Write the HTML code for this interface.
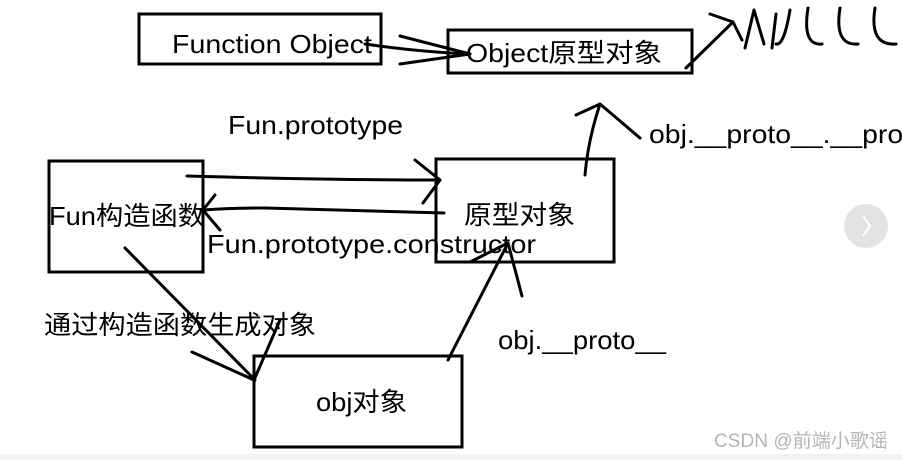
<!DOCTYPE html>
<html><head><meta charset="utf-8"><style>
html,body{margin:0;padding:0;background:#fff;width:902px;height:460px;overflow:hidden}
svg{display:block}
text{font-family:"Liberation Sans","Noto Sans CJK SC",sans-serif;fill:#000}
</style></head><body>
<svg width="902" height="460" viewBox="0 0 902 460" xmlns="http://www.w3.org/2000/svg">
<rect x="0" y="454" width="902" height="6" fill="#f2f2f2"/>
<g fill="none" stroke="#000" stroke-width="3">
<rect x="139" y="14" width="242" height="50"/>
<rect x="448" y="30" width="244" height="43"/>
<rect x="49" y="161" width="154" height="111"/>
<rect x="436" y="159" width="178" height="103"/>
<rect x="254" y="356" width="208" height="91"/>
</g>
<g fill="none" stroke="#000" stroke-width="3" stroke-linecap="round" stroke-linejoin="round">
<path d="M365 44 Q420 52 470 54"/>
<path d="M400 36 L470 54 L400 64"/>
<path d="M686 68 L733 22"/>
<path d="M710 14 L733 22 L742 40"/>
<path d="M585 175 Q588 140 600 104 L576 115 M600 104 L640 138"/>
<path d="M187 176 Q330 180 440 180"/>
<path d="M415 160 L440 180 L423 203"/>
<path d="M444 213 Q330 210 265 208 Q230 208 203 210"/>
<path d="M215 195 L203 210 L220 230"/>
<path d="M125 248 L255 380"/>
<path d="M192 352 L254 380 L280 320"/>
<path d="M448 360 L508 243"/>
<path d="M470 262 L508 243 L522 296"/>
<path d="M745 48 L754 10 L764 44"/>
<path d="M772 48 L776 14 M776 44 Q784 46 790 10"/>
<path d="M808 8 Q802 46 822 44"/>
<path d="M840 8 Q834 46 858 44"/>
<path d="M875 8 Q869 46 896 44"/>
</g>
<g font-size="26">
<text x="172" y="53" textLength="200" lengthAdjust="spacingAndGlyphs">Function Object</text>
<text x="466" y="62" textLength="196" lengthAdjust="spacingAndGlyphs">Object原型对象</text>
<text x="228" y="134" textLength="175" lengthAdjust="spacingAndGlyphs">Fun.prototype</text>
<text x="649" y="143" textLength="262" lengthAdjust="spacingAndGlyphs">obj.__proto__.__prot</text>
<text x="49" y="225" textLength="156" lengthAdjust="spacingAndGlyphs">Fun构造函数</text>
<text x="464" y="224" textLength="111" lengthAdjust="spacingAndGlyphs">原型对象</text>
<text x="207" y="253" textLength="329" lengthAdjust="spacingAndGlyphs">Fun.prototype.constructor</text>
<text x="44" y="334" textLength="272" lengthAdjust="spacingAndGlyphs">通过构造函数生成对象</text>
<text x="498" y="349" textLength="168" lengthAdjust="spacingAndGlyphs">obj.__proto__</text>
<text x="316" y="411" textLength="91" lengthAdjust="spacingAndGlyphs">obj对象</text>
</g>
<text x="714" y="447" font-size="19" textLength="174" lengthAdjust="spacingAndGlyphs" style="fill:#b5b5b5">CSDN @前端小歌谣</text>
<circle cx="866" cy="226" r="22" fill="#e3e3e3"/>
<path d="M863 216 L870 226 L863 236" fill="none" stroke="#fff" stroke-width="2"/>
</svg>
</body></html>
